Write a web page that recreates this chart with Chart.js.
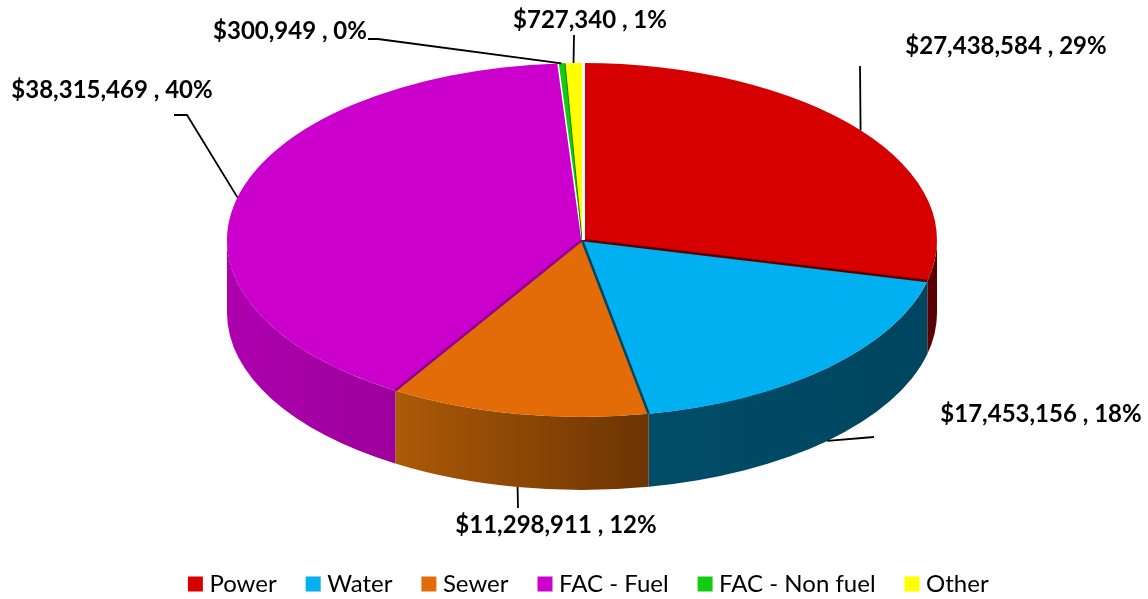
<!DOCTYPE html>
<html>
<head>
<meta charset="utf-8">
<script src="https://cdn.jsdelivr.net/npm/chart.js@4/dist/chart.umd.min.js"></script>
<style>
  html, body { margin: 0; padding: 0; background: #fff; }
  canvas { display: block; }
</style>
</head>
<body>
<canvas id="myChart" width="1148" height="599"></canvas>
<script>
const categories = ['Power', 'Water', 'Sewer', 'FAC - Fuel', 'FAC - Non fuel', 'Other'];
const sliceValues = [27438584, 17453156, 11298911, 38315469, 300949, 727340];
const sliceColors = ['#d60000', '#00b0f0', '#e36c09', '#cc00cc', '#12cc12', '#ffff00'];
const wallLeftColors = ['#5a0000', '#004c69', '#ac5a06', '#ae00ae', '#0a7a0a', '#999900'];
const wallRightColors = ['#5a0000', '#00455f', '#6c3404', '#9c009c', '#0a7a0a', '#999900'];
const edgeColors = ['#5a0000', '#00455f', '#8f008f', '#ffffff', '#0a7a0a', '#ffffff'];
const edgeWidths = [2.5, 2.5, 2.5, 1.5, 1, 3];

// where each label text sits (centre) and the elbow of its leader line
const labelCentres = [[1006, 46], [1041, 414], [556, 525], [112, 90], [290, 31], [590, 20]];
const leaderElbows = [
  [[860, 66]],
  [[874, 437]],
  [[518, 508]],
  [[174, 115], [187, 115]],
  [[368, 39], [378, 39]],
  [[574, 35]]
];

const tilt = 177 / 355;  // pie is squashed to an ellipse
const depth = 73;        // height of the side wall
const total = sliceValues.reduce((a, b) => a + b, 0);

function labelText(i) {
  const pct = Math.round(sliceValues[i] / total * 100);
  return '$' + sliceValues[i].toLocaleString('en-US') + ' , ' + pct + '%';
}

const pie3d = {
  id: 'pie3d',
  afterLayout(chart) {
    // legend sits lower and further right, the pie higher, than the default layout gives
    const l = chart.legend;
    l.top += 7;
    l.bottom += 7;
    l.left += 9;
    l.right += 9;
    chart.chartArea.bottom = 480;
    chart.chartArea.height = 480;
  },
  beforeDatasetsDraw(chart) {
    // side walls, only the part of the rim facing the viewer
    const c = chart.ctx;
    chart.getDatasetMeta(0).data.forEach((arc, i) => {
      const a0 = Math.max(arc.startAngle, 0);
      const a1 = Math.min(arc.endAngle, Math.PI);
      if (a1 <= a0) return;
      const rx = arc.outerRadius, ry = rx * tilt;
      const x0 = arc.x + rx * Math.cos(a0), x1 = arc.x + rx * Math.cos(a1);
      const grad = c.createLinearGradient(Math.min(x0, x1), 0, Math.max(x0, x1), 0);
      grad.addColorStop(0, wallLeftColors[i]);
      grad.addColorStop(1, wallRightColors[i]);
      c.beginPath();
      c.ellipse(arc.x, arc.y, rx, ry, 0, a0, a1);
      c.ellipse(arc.x, arc.y + depth, rx, ry, 0, a1, a0, true);
      c.closePath();
      c.fillStyle = grad;
      c.fill();
    });
  },
  beforeDatasetDraw(chart) {
    const c = chart.ctx, arc = chart.getDatasetMeta(0).data[0];
    c.save();
    c.translate(arc.x, arc.y);
    c.scale(1, tilt);
    c.translate(-arc.x, -arc.y);
  },
  afterDatasetDraw(chart) {
    chart.ctx.restore();
  },
  afterDraw(chart) {
    const c = chart.ctx;
    const arcs = chart.getDatasetMeta(0).data;
    // dark/white seams between the slices
    arcs.forEach((arc, i) => {
      const rx = arc.outerRadius, ry = rx * tilt;
      const shift = i === arcs.length - 1 ? 1.5 : 0;  // white gap sits just right of the last slice
      c.beginPath();
      c.moveTo(arc.x + shift, arc.y);
      c.lineTo(arc.x + shift + rx * Math.cos(arc.endAngle), arc.y + ry * Math.sin(arc.endAngle));
      c.strokeStyle = edgeColors[i];
      c.lineWidth = edgeWidths[i];
      c.stroke();
    });
    // leader lines end on the rim at the middle of each slice
    c.strokeStyle = '#000';
    c.lineWidth = 1.8;
    arcs.forEach((arc, i) => {
      const mid = (arc.startAngle + arc.endAngle) / 2;
      const rx = arc.outerRadius, ry = rx * tilt;
      const ex = arc.x + rx * Math.cos(mid);
      const ey = arc.y + ry * Math.sin(mid) + (Math.sin(mid) > 0 ? depth : 0);
      c.beginPath();
      leaderElbows[i].forEach((p, k) => k ? c.lineTo(p[0], p[1]) : c.moveTo(p[0], p[1]));
      c.lineTo(ex, ey);
      c.stroke();
    });
    c.fillStyle = '#000';
    c.font = 'bold 24px Lato';
    c.textAlign = 'center';
    c.textBaseline = 'middle';
    labelCentres.forEach((p, i) => c.fillText(labelText(i), p[0], p[1]));
  }
};

new Chart(document.getElementById('myChart'), {
  type: 'pie',
  plugins: [pie3d],
  data: {
    labels: categories,
    datasets: [{
      data: sliceValues,
      backgroundColor: sliceColors,
      borderWidth: 0,
      radius: 355,
      clip: false
    }]
  },
  options: {
    responsive: false,
    animation: false,
    layout: { padding: { left: 16 } },
    plugins: {
      tooltip: { enabled: false },
      legend: {
        position: 'bottom',
        labels: {
          usePointStyle: true,
          pointStyle: 'rect',
          boxHeight: 15,
          boxWidth: 4,
          padding: 34.5,
          color: '#000',
          font: { family: 'Lato', size: 24 }
        }
      }
    }
  }
});
</script>
</body>
</html>
